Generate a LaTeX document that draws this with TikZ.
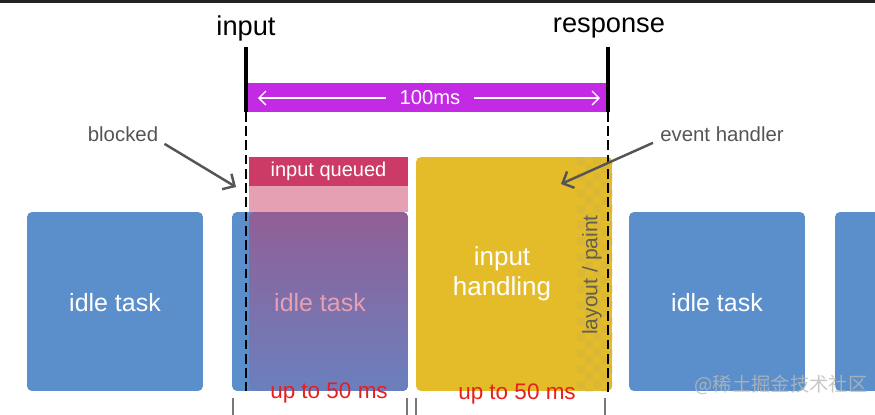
\documentclass[tikz,border=0pt]{standalone}
\usepackage{fontspec}
\setmainfont{Liberation Sans}
\newfontfamily\cjkfont{Noto Sans CJK SC}
\usepackage{tikz}
\usetikzlibrary{arrows.meta}
\usepackage{xcolor}
\definecolor{ColTop}{RGB}{34,34,34}
\definecolor{ColTask}{RGB}{91,143,203}
\definecolor{ColBar}{RGB}{194,42,228}
\definecolor{ColQueue}{RGB}{204,58,102}
\definecolor{ColQueueLt}{RGB}{230,160,180}
\definecolor{ColShadeTop}{RGB}{145,95,150}
\definecolor{ColShadeBot}{RGB}{106,128,190}
\definecolor{ColHandle}{RGB}{228,188,42}
\definecolor{ColCheck}{RGB}{214,180,62}
\definecolor{ColNote}{RGB}{85,85,85}
\definecolor{ColRed}{RGB}{232,30,30}
\definecolor{ColTick}{RGB}{120,120,120}
\tikzstyle{TaskBox}=[rectangle,rounded corners=0.1cm,fill=ColTask,minimum width=3.52cm,
minimum height=3.58cm,inner sep=0pt]
\tikzstyle{TaskText}=[white,font=\fontsize{14.2}{17}\selectfont]
\tikzstyle{LabelTop}=[black,font=\fontsize{15.5}{18}\selectfont]
\tikzstyle{NoteText}=[ColNote,inner sep=0pt,font=\fontsize{11.6}{14}\selectfont]
\tikzstyle{NoteArrow}=[ColNote,line width=1.4pt,-{Straight Barb[length=1.8mm,width=3.6mm]}]
\tikzstyle{LimitText}=[ColRed,font=\fontsize{12.8}{15}\selectfont]
\tikzstyle{MarkBar}=[black,line width=0.08cm]
\tikzstyle{MarkDash}=[black,line width=0.05cm,dash pattern=on 5.5pt off 2.6pt]
\tikzstyle{TickLine}=[ColTick,line width=0.7pt]

\begin{document}
\begin{tikzpicture}[x=0.02cm,y=-0.02cm]
        \useasboundingbox(0,0)rectangle(875,414);
        \clip(0,0)rectangle(875,414);
        \fill[ColTop](0,0)rectangle(875,3);
        % time marks
        \node[LabelTop](input)at(246,28){input};
        \node[LabelTop](response)at(609,28){response};
        \node[fill=ColBar,minimum width=7.16cm,minimum height=0.58cm,inner sep=0pt](bar)at(427,97.5){};
        \coordinate(inTop)at(246,47);
        \coordinate(inMid)at(246,112);
        \coordinate(inEnd)at(246,391);
        \coordinate(reTop)at(608,47);
        \coordinate(reMid)at(608,112);
        \coordinate(reEnd)at(608,395);
        \coordinate(spanL)at(258,98);
        \coordinate(spanR)at(600,98);
        \draw[white,line width=0.75pt,{Straight Barb[length=1.4mm,width=2.8mm]}-{Straight Barb[length=1.4mm,width=2.8mm]}](spanL)--(spanR);
        \node[fill=ColBar,text=white,inner xsep=8pt,inner ysep=1pt,font=\fontsize{11.5}{14}\selectfont](span)at(430,98){100ms};
        \draw[MarkBar](inTop)--(inMid);
        \draw[MarkBar](reTop)--(reMid);
        % tasks
        \node[TaskBox](idleA)at(115,301.5){};
        \node[TaskBox](idleB)at(320,301.5){};
        \node[TaskBox](idleC)at(717,301.5){};
        \node[TaskBox](idleD)at(923,301.5){};
        \node[fill=ColQueue,minimum width=3.18cm,minimum height=0.58cm,inner sep=0pt](queued)at(328.5,171.5){};
        \node[fill=ColQueueLt,minimum width=3.18cm,minimum height=0.52cm,inner sep=0pt](queuedLt)at(328.5,199){};
        \node[rounded corners=0.1cm,top color=ColShadeTop,bottom color=ColShadeBot,
        minimum width=3.18cm,minimum height=3.58cm,inner sep=0pt](overlay)at(328.5,301.5){};
        \node[white,font=\fontsize{11.4}{14}\selectfont](queuedText)at(328.5,171){input queued};
        \node[TaskText](idleTextA)at(115,303){idle task};
        \node[TaskText,text=ColQueueLt](idleTextB)at(320,303){idle task};
        \node[TaskText](idleTextC)at(717,303){idle task};
        \node[rounded corners=0.1cm,fill=ColHandle,minimum width=3.92cm,minimum height=4.68cm,inner sep=0pt](handling)at(514,274){};
        \begin{scope}
        \clip[rounded corners=0.1cm](handling.south west)rectangle(handling.north east);
        \foreach \i in {0,...,4}
        \foreach \j in {0,...,29}{
            \pgfmathtruncatemacro\k{mod(\i+\j,2)}
            \ifnum\k=0 \fill[ColCheck,opacity=0.6](577+8*\i,157+8*\j)rectangle++(8,8);\fi
        }
        \end{scope}
        \node[TaskText,align=center,font=\fontsize{14.8}{17}\selectfont](handlingText)at(502,274){input\\handling};
        \node[rotate=90,text=ColNote!90!ColHandle,font=\fontsize{12}{14}\selectfont](paint)at(592,275){layout / paint};
        \draw[MarkDash](inMid)--(inEnd);
        \draw[MarkDash](reMid)--(reEnd);
        % notes
        \node[NoteText](blocked)at(123,134){blocked};
        \node[NoteText](handler)at(722,134){event handler};
        \coordinate(blockTip)at(236,187);
        \coordinate(handlerTip)at(561,184);
        \draw[NoteArrow]([shift={(6,2)}]blocked.south east)--(blockTip);
        \draw[NoteArrow]([shift={(-7,1)}]handler.south west)--(handlerTip);
        % limits
        \node[LimitText](limitA)at(329,393){up to 50 ms};
        \node[LimitText](limitB)at(517,394){up to 50 ms};
        \coordinate(tickA)at(233,398);
        \coordinate(tickB)at(407,398);
        \coordinate(tickC)at(416,398);
        \coordinate(tickD)at(605,398);
        \draw[TickLine](tickA)--++(0,20);
        \draw[TickLine](tickB)--++(0,20);
        \draw[TickLine](tickC)--++(0,20);
        \draw[TickLine](tickD)--++(0,20);
        \node[gray!55,opacity=0.8,font=\cjkfont\fontsize{11}{13}\selectfont](mark)at(781,385){@稀土掘金技术社区};
    \end{tikzpicture}
\end{document}
